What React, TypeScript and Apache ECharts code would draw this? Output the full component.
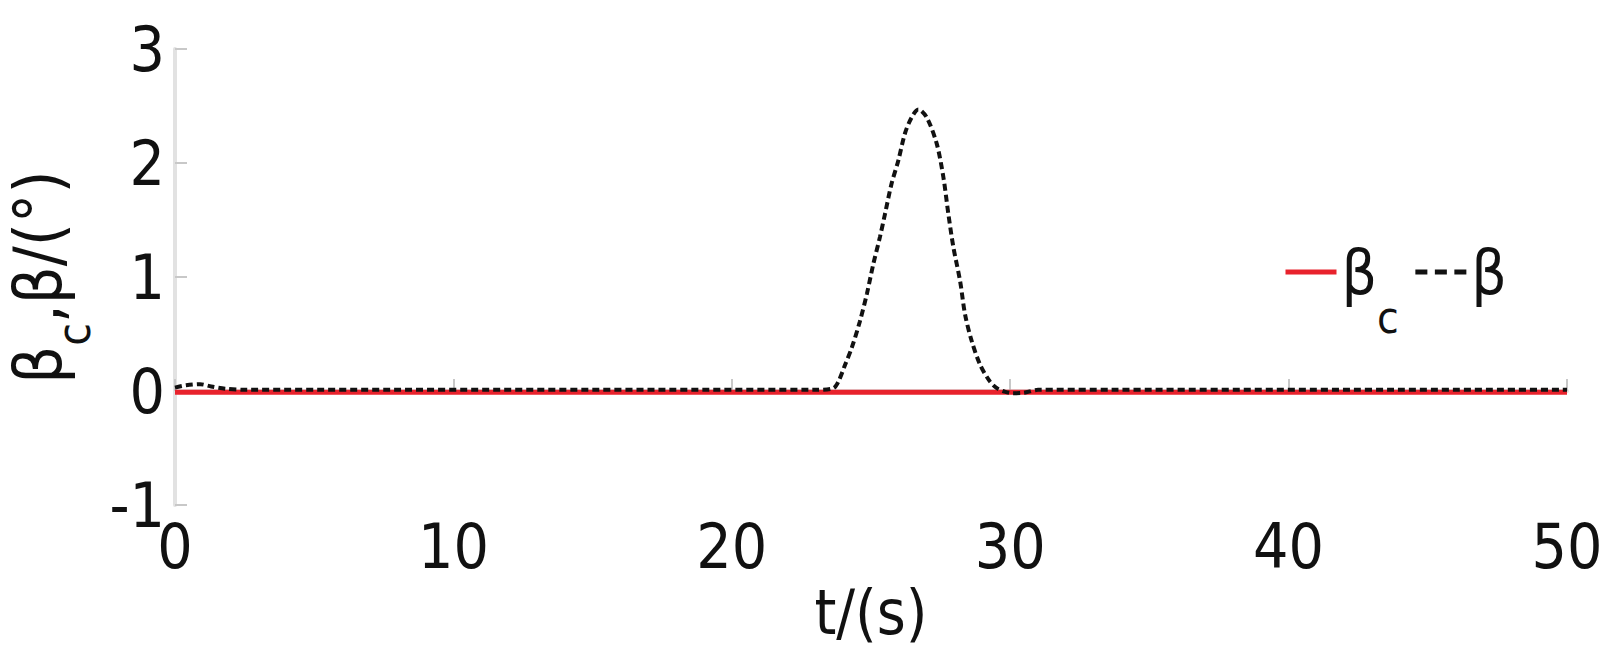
import React, { useEffect, useRef } from "react";
import * as echarts from "echarts";

// time axis (s) and values
const timeBeta = [
  0, 0.4, 0.9, 1.3, 1.8, 2.5, 23.0, 23.65, 23.83, 24.07, 24.31, 24.6, 24.85, 25.08,
  25.32, 25.5, 25.74, 25.98, 26.22, 26.46, 26.7, 27.0, 27.36, 27.6, 27.78, 27.96,
  28.2, 28.38, 28.62, 28.92, 29.27, 29.52, 29.8, 30.1, 30.5, 31.0, 50,
];
const betaValues = [
  0.03, 0.05, 0.06, 0.04, 0.02, 0.01, 0.01, 0.025, 0.084, 0.23, 0.38, 0.61, 0.85, 1.11,
  1.35, 1.55, 1.82, 2.02, 2.26, 2.4, 2.47, 2.4, 2.17, 1.875, 1.55, 1.26,
  0.965, 0.67, 0.436, 0.23, 0.084, 0.025, -0.005, -0.02, -0.015, 0.01, 0.01,
];
const timeBetaC = [0, 1, 2, 10, 20, 30, 40, 50];
const betaCValues = [-0.01, -0.01, -0.01, -0.01, -0.01, -0.01, -0.01, -0.01];

const xTicks = { min: 0, max: 50, interval: 10 };
const yTicks = { min: -1, max: 3, interval: 1 };

const seriesNames = ["βc", "β"];

const FONT = "'Liberation Sans Narrow', 'Arial Narrow', 'DejaVu Sans Condensed', sans-serif";
const RED = "#e8222c";
const BLACK = "#111111";

export default function App() {
  const ref = useRef<HTMLDivElement>(null);
  useEffect(() => {
    document.body.style.margin = "0";
    document.body.style.overflow = "hidden";
    if (!ref.current) return;
    const chart = echarts.init(ref.current, undefined, { renderer: "svg" });
    const betaData = timeBeta.map((t, i) => [t, betaValues[i]]);
    const betaCData = timeBetaC.map((t, i) => [t, betaCValues[i]]);
    const legendRich = {
      m: { fontSize: 62, fontFamily: FONT, color: "#111" },
      s: { fontSize: 44, fontFamily: FONT, color: "#111", padding: [90, 0, 0, 0] },
    };
    const nameRich = {
      m: { fontSize: 66, fontFamily: FONT, color: "#111" },
      s: { fontSize: 46, fontFamily: FONT, color: "#111", padding: [72, 0, 0, 0] },
    };
    chart.setOption({
      animation: false,
      backgroundColor: "#ffffff",
      grid: { left: 175, right: 57, top: 49, bottom: 157, outerBoundsMode: "none", containLabel: false },
      legend: {
        left: 1278,
        top: 236,
        itemWidth: 51,
        itemHeight: 20,
        itemGap: 14,
        itemStyle: { opacity: 0 },
        data: [
          { name: seriesNames[0], lineStyle: { color: RED, width: 5, type: "solid" } },
          { name: seriesNames[1], lineStyle: { color: BLACK, width: 5, type: [12, 7.5] } },
        ],
        textStyle: { fontSize: 62, fontFamily: FONT, color: "#111", rich: legendRich },
        formatter: (name: string) => (name === "βc" ? "{m|β}{s|c}" : "{m|β}"),
      },
      xAxis: {
        type: "value",
        min: xTicks.min,
        max: xTicks.max,
        interval: xTicks.interval,
        name: "t/(s)",
        nameLocation: "middle",
        nameGap: 64,
        nameTextStyle: { fontSize: 62, fontFamily: FONT, color: "#111" },
        axisLine: { show: true, lineStyle: { color: "#e2e2e2", width: 4 } },
        axisTick: { show: true, inside: true, length: 12, lineStyle: { color: "#c8c8c8", width: 2 } },
        axisLabel: { fontSize: 62, fontFamily: FONT, color: "#111", margin: 10 },
        splitLine: { show: false },
      },
      yAxis: {
        type: "value",
        min: yTicks.min,
        max: yTicks.max,
        interval: yTicks.interval,
        name: "{m|β}{s|c}{m|,β/(°)}",
        nameLocation: "middle",
        nameGap: 78,
        nameTextStyle: { fontSize: 66, fontFamily: FONT, color: "#111", rich: nameRich },
        axisLine: { show: true, lineStyle: { color: "#e2e2e2", width: 4 } },
        axisTick: { show: true, inside: true, length: 12, lineStyle: { color: "#c8c8c8", width: 2 } },
        axisLabel: { fontSize: 62, fontFamily: FONT, color: "#111", margin: 10 },
        splitLine: { show: false },
      },
      series: [
        {
          name: seriesNames[0],
          type: "line",
          data: betaCData,
          showSymbol: false,
          symbol: "none",
          color: RED,
          lineStyle: { color: RED, width: 5 },
          z: 2,
        },
        {
          name: seriesNames[1],
          type: "line",
          data: betaData,
          showSymbol: false,
          symbol: "none",
          smooth: 0.3,
          color: BLACK,
          lineStyle: { color: BLACK, width: 4, type: [7, 4] },
          z: 3,
        },
      ],
    });
    return () => chart.dispose();
  }, []);
  return <div ref={ref} style={{ width: 1624, height: 662 }} />;
}
